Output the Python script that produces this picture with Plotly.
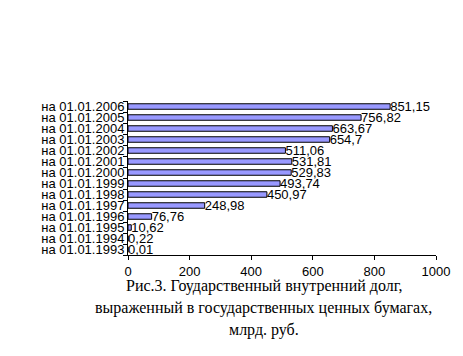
import plotly.graph_objects as go

categories = ["на 01.01.1993", "на 01.01.1994", "на 01.01.1995", "на 01.01.1996",
              "на 01.01.1997", "на 01.01.1998", "на 01.01.1999", "на 01.01.2000",
              "на 01.01.2001", "на 01.01.2002", "на 01.01.2003", "на 01.01.2004",
              "на 01.01.2005", "на 01.01.2006"]
values = [0.01, 0.22, 10.62, 76.76, 248.98, 450.97, 493.74, 529.83,
          531.81, 511.06, 654.7, 663.67, 756.82, 851.15]
x_ticks = [0, 200, 400, 600, 800, 1000]
caption = ["Рис.3. Гоударственный внутренний долг,",
           "выраженный в государственных ценных бумагах,",
           "млрд. руб."]

labels = [f"{v:g}".replace(".", ",") for v in values]

fig = go.Figure(go.Bar(
    y=categories, x=values, orientation="h",
    marker=dict(color="#9999FF", line=dict(color="black", width=1)),
    text=labels, textposition="outside", cliponaxis=False, constraintext="none",
    textfont=dict(family="Liberation Sans, Arial", size=13, color="black"),
))

# page body has an 8px margin, so the figure is offset by 8px
fig.update_layout(
    width=455, height=348,
    margin=dict(l=120, r=27, t=93, b=101, autoexpand=False),
    paper_bgcolor="white", plot_bgcolor="white",
    bargap=0.5, showlegend=False,
    font=dict(family="Liberation Sans, Arial", size=13, color="black"),
)
fig.update_xaxes(range=[0, 1000], tickvals=x_ticks, ticks="outside", ticklen=4,
                 showline=True, linecolor="black", linewidth=1, showgrid=False,
                 zeroline=False, tickcolor="black", automargin=False,
                 tickfont=dict(size=13))
fig.update_yaxes(categoryorder="array", categoryarray=categories, ticks="outside",
                 tickson="boundaries", ticklen=4, tickcolor="black", dtick=1,
                 showline=True, linecolor="black", linewidth=1, showgrid=False,
                 automargin=False, tickfont=dict(size=13))

for i, line in enumerate(caption):
    fig.add_annotation(text=line, xref="paper", yref="paper", x=0.44, y=0,
                       yshift=-31 - 22 * i, showarrow=False, xanchor="center",
                       yanchor="middle",
                       font=dict(family="Liberation Serif, Times New Roman", size=16))

fig.write_html("out.html")
